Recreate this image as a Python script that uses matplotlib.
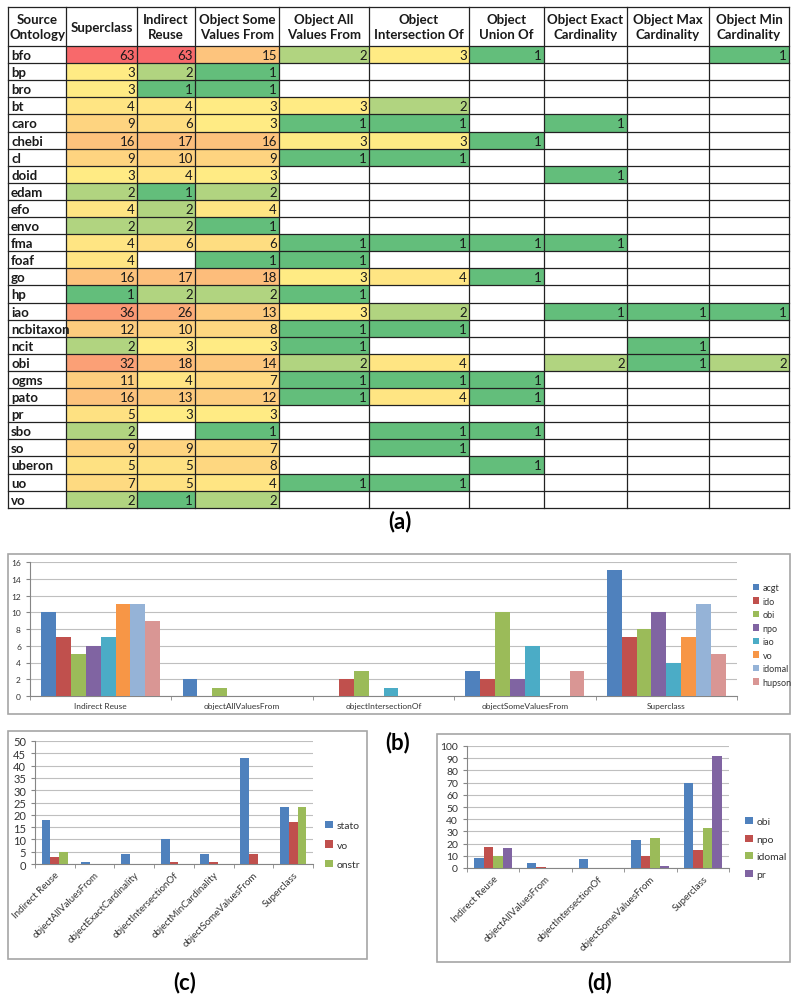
import numpy as np
import matplotlib.pyplot as plt
from matplotlib.patches import Rectangle

W, H = 799, 1003
plt.rcParams['font.family'] = ['Lato', 'DejaVu Sans']

# ---------------- data: table (a) ----------------
headers = ["Source\nOntology", "Superclass", "Indirect\nReuse", "Object Some\nValues From",
           "Object All\nValues From", "Object\nIntersection Of", "Object\nUnion Of",
           "Object Exact\nCardinality", "Object Max\nCardinality", "Object Min\nCardinality"]
ontologies = ["bfo", "bp", "bro", "bt", "caro", "chebi", "cl", "doid", "edam", "efo", "envo",
              "fma", "foaf", "go", "hp", "iao", "ncbitaxon", "ncit", "obi", "ogms", "pato",
              "pr", "sbo", "so", "uberon", "uo", "vo"]
N = None
counts = [
    [63, 63, 15, 2, 3, 1, N, N, 1],
    [3, 2, 1, N, N, N, N, N, N],
    [3, 1, 1, N, N, N, N, N, N],
    [4, 4, 3, 3, 2, N, N, N, N],
    [9, 6, 3, 1, 1, N, 1, N, N],
    [16, 17, 16, 3, 3, 1, N, N, N],
    [9, 10, 9, 1, 1, N, N, N, N],
    [3, 4, 3, N, N, N, 1, N, N],
    [2, 1, 2, N, N, N, N, N, N],
    [4, 2, 4, N, N, N, N, N, N],
    [2, 2, 1, N, N, N, N, N, N],
    [4, 6, 6, 1, 1, 1, 1, N, N],
    [4, N, 1, 1, N, N, N, N, N],
    [16, 17, 18, 3, 4, 1, N, N, N],
    [1, 2, 2, 1, N, N, N, N, N],
    [36, 26, 13, 3, 2, N, 1, 1, 1],
    [12, 10, 8, 1, 1, N, N, N, N],
    [2, 3, 3, 1, N, N, N, 1, N],
    [32, 18, 14, 2, 4, N, 2, 1, 2],
    [11, 4, 7, 1, 1, 1, N, N, N],
    [16, 13, 12, 1, 4, 1, N, N, N],
    [5, 3, 3, N, N, N, N, N, N],
    [2, N, 1, N, 1, 1, N, N, N],
    [9, 9, 7, N, 1, N, N, N, N],
    [5, 5, 8, N, N, 1, N, N, N],
    [7, 5, 4, 1, 1, N, N, N, N],
    [2, 1, 2, N, N, N, N, N, N],
]

# ---------------- data: chart (b) ----------------
cats_b = ["Indirect Reuse", "objectAllValuesFrom", "objectIntersectionOf",
          "objectSomeValuesFrom", "Superclass"]
names_b = ["acgt", "ido", "obi", "npo", "iao", "vo", "idomal", "hupson"]
vals_b = [
    [10, 2, 0, 3, 15],
    [7, 0, 2, 2, 7],
    [5, 1, 3, 10, 8],
    [6, 0, 0, 2, 10],
    [7, 0, 1, 6, 4],
    [11, 0, 0, 0, 7],
    [11, 0, 0, 0, 11],
    [9, 0, 0, 3, 5],
]

# ---------------- data: chart (c) ----------------
cats_c = ["Indirect Reuse", "objectAllValuesFrom", "objectExactCardinality",
          "objectIntersectionOf", "objectMinCardinality", "objectSomeValuesFrom", "Superclass"]
names_c = ["stato", "vo", "onstr"]
vals_c = [
    [18, 1, 4, 10, 4, 43, 23],
    [3, 0, 0, 1, 1, 4, 17],
    [5, 0, 0, 0, 0, 0, 23],
]

# ---------------- data: chart (d) ----------------
cats_d = ["Indirect Reuse", "objectAllValuesFrom", "objectIntersectionOf",
          "objectSomeValuesFrom", "Superclass"]
names_d = ["obi", "npo", "idomal", "pr"]
vals_d = [
    [8, 4, 7, 23, 70],
    [17, 1, 0, 10, 15],
    [10, 0, 0, 25, 33],
    [16, 0, 0, 2, 92],
]

xl_colors = ["#4F81BD", "#C0504D", "#9BBB59", "#8064A2", "#4BACC6", "#F79646", "#95B3D7", "#D99694"]


def scale_color(v, vmin=1, vmid=3, vmax=63):
    # excel style 3-colour scale: green -> yellow -> red
    g = np.array([99, 190, 123]) / 255
    y = np.array([255, 235, 132]) / 255
    r = np.array([248, 105, 107]) / 255
    if v <= vmid:
        t = (v - vmin) / (vmid - vmin)
        return g + (y - g) * t
    t = ((v - vmid) / (vmax - vmid)) ** 0.75
    return y + (r - y) * t


def frac(x0, y0, x1, y1):
    return [x0 / W, 1 - y1 / H, (x1 - x0) / W, (y1 - y0) / H]


fig = plt.figure(figsize=(W / 100, H / 100), dpi=100)
bg = fig.add_axes([0, 0, 1, 1])
bg.set_xlim(0, W)
bg.set_ylim(H, 0)
bg.axis('off')

# ---- table ----
col_x = [8, 66, 137, 195, 279, 369, 469, 544, 627, 709, 789]
top, head_bot, row_h = 8, 47, 17.1
n_rows = len(ontologies)
bottom = head_bot + n_rows * row_h

for i, row in enumerate(counts):
    y0 = head_bot + i * row_h
    for j, v in enumerate(row):
        if v is None:
            continue
        x0, x1 = col_x[j + 1], col_x[j + 2]
        bg.add_patch(Rectangle((x0, y0), x1 - x0, row_h, facecolor=scale_color(v), edgecolor='none'))
        bg.text(x1 - 2, y0 + row_h / 2 + 0.5, str(v), ha='right', va='center', fontsize=9.5, color='#1a1a1a')
    bg.text(col_x[0] + 3, y0 + row_h / 2 + 0.5, ontologies[i], ha='left', va='center',
            fontsize=9.5, fontweight='bold', color='#1a1a1a')

for j, h in enumerate(headers):
    xc = (col_x[j] + col_x[j + 1]) / 2
    bg.text(xc, (top + head_bot) / 2, h, ha='center', va='center', fontsize=9.5,
            fontweight='bold', linespacing=1.25, color='#1a1a1a')

for x in col_x:
    bg.plot([x, x], [top, bottom], color='#222222', lw=0.9)
bg.plot([col_x[0], col_x[-1]], [top, top], color='#222222', lw=0.9)
for i in range(n_rows + 1):
    yy = head_bot + i * row_h
    bg.plot([col_x[0], col_x[-1]], [yy, yy], color='#222222', lw=0.9)

bg.text(400, 522, "(a)", ha='center', va='center', fontsize=16, fontweight='bold')
bg.text(398, 743, "(b)", ha='center', va='center', fontsize=16, fontweight='bold')
bg.text(185, 983, "(c)", ha='center', va='center', fontsize=16, fontweight='bold')
bg.text(600, 983, "(d)", ha='center', va='center', fontsize=16, fontweight='bold')

# chart area borders
for (x0, y0, x1, y1) in [(8, 555, 790, 715), (8, 732, 367, 960), (437, 735, 790, 963)]:
    bg.add_patch(Rectangle((x0, y0), x1 - x0, y1 - y0, facecolor='none', edgecolor='#A6A6A6', lw=1.2))


def bar_chart(rect, cats, names, vals, ymax, ystep, ytick_fs, xtick_fs, rot, leg_xy, leg_fs, leg_space):
    ax = fig.add_axes(frac(*rect))
    n = len(names)
    w = 1 / (n + 1.5)
    x = np.arange(len(cats))
    for k, (nm, v) in enumerate(zip(names, vals)):
        ax.bar(x - n * w / 2 + (k + 0.5) * w, v, w, color=xl_colors[k], label=nm, zorder=3)
    ax.set_xlim(-0.5, len(cats) - 0.5)
    ax.set_ylim(0, ymax)
    ax.set_yticks(np.arange(0, ymax + 0.1, ystep))
    ax.yaxis.grid(True, color='#BFBFBF', lw=0.8, zorder=0)
    for s in ['top', 'right']:
        ax.spines[s].set_visible(False)
    for s in ['left', 'bottom']:
        ax.spines[s].set_color('#868686')
    ax.set_xticks(x)
    ax.set_xticks(np.arange(-0.5, len(cats)), minor=True)
    ax.tick_params(axis='x', which='major', length=0, labelsize=xtick_fs, colors='#333333', pad=4)
    ax.tick_params(axis='x', which='minor', length=3, color='#868686')
    ax.tick_params(axis='y', length=3, color='#868686', labelsize=ytick_fs, labelcolor='#333333')
    if rot:
        ax.set_xticklabels(cats, rotation=45, ha='right', rotation_mode='anchor')
    else:
        ax.set_xticklabels(cats)
    ax.legend(loc='center left', bbox_to_anchor=(leg_xy[0] / W, 1 - leg_xy[1] / H),
              bbox_transform=fig.transFigure, frameon=False, fontsize=leg_fs,
              handlelength=0.7, handleheight=0.7, handletextpad=0.4, labelspacing=leg_space,
              borderpad=0, labelcolor='#333333')
    return ax


bar_chart((30, 563, 737, 697), cats_b, names_b, vals_b, 16, 2, 6, 6, False, (748, 636), 6.5, 0.5)
bar_chart((35, 742, 313, 865), cats_c, names_c, vals_c, 50, 5, 8, 7, True, (320, 846), 7.5, 0.95)
bar_chart((467, 747, 729, 869), cats_d, names_d, vals_d, 100, 10, 7.5, 7, True, (740, 849), 7.5, 0.8)

plt.savefig("out.png", dpi=100)
